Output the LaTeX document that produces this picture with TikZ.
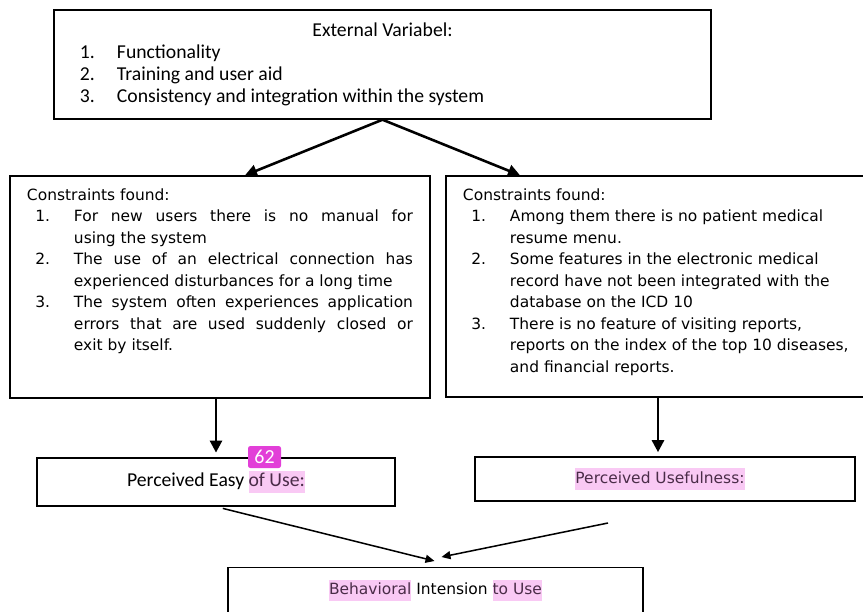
\documentclass[tikz,border=0pt]{standalone}
\usepackage{fontspec}
\setmainfont{Carlito}
\newfontfamily\lucfont{DejaVu Sans}
\usetikzlibrary{arrows.meta, calc, positioning}
\definecolor{hlpink}{HTML}{F9C9F4}
\definecolor{hltext}{HTML}{4A2C48}
\definecolor{tagpink}{HTML}{E23FD8}
\tikzstyle{bigbox} = [rectangle, draw, line width=1.2pt, inner xsep=0.51cm, inner ysep=0.27cm]
\tikzstyle{smallbox} = [rectangle, draw, line width=1.2pt]
\tikzstyle{arrow} = [line width=2.2pt, -{Triangle[length=0.36cm, width=0.36cm]}]
\tikzstyle{thinarrow} = [line width=1.3pt, -{Triangle[length=0.27cm, width=0.24cm]}]
\newcommand{\marked}[1]{{\setlength{\fboxsep}{0pt}\colorbox{hlpink}{\strut\color{hltext}#1}}}
\newcommand{\citem}[2]{\par\hangindent=1.41cm\hangafter=1\noindent\makebox[1.41cm][l]{\hspace*{0.25cm}#1}#2\par}
\newcommand{\titem}[2]{\par\hangindent=1.11cm\hangafter=1\noindent\makebox[1.11cm][l]{#1}#2\par}
\newcommand{\cfont}{\lucfont\fontsize{13.2}{18.4}\selectfont}
\newcommand{\tfont}{\fontsize{16.8}{18.7}\selectfont}

\begin{document}
\begin{tikzpicture}[x=0.03cm, y=-0.03cm]
        \useasboundingbox (0,0) rectangle (863,611);
        % External variables
        \node (ext) [smallbox, inner sep=0, minimum width=19.71cm, minimum height=3.27cm] at (382.5,64.5) {\parbox{18.15cm}{\tfont\centering External Variabel:\par\raggedright
                \titem{1.}{Functionality}
                \titem{2.}{Training and user aid}
                \titem{3.}{Consistency and integration within the system}}};

        % Constraints
        \node (lc) [bigbox] at (220,287) {\parbox[c][6.12cm][t]{11.58cm}{\cfont\strut Constraints found:\par
                \citem{1.}{For new users there is no manual for\linebreak using the system}
                \citem{2.}{The use of an electrical connection has\linebreak experienced disturbances for a long time}
                \citem{3.}{The system often experiences application\linebreak errors that are used suddenly closed or\linebreak exit by itself.}}};
        \node (rc) [bigbox] at (658,286.5) {\parbox[c][6.09cm][t]{11.7cm}{\cfont\raggedright\strut Constraints found:\par
                \citem{1.}{Among them there is no patient medical\newline resume menu.}
                \citem{2.}{Some features in the electronic medical\newline record have not been integrated with the\newline database on the ICD 10}
                \citem{3.}{There is no feature of visiting reports,\newline reports on the index of the top 10 diseases,\newline and financial reports.}}};

        % TAM constructs
        \node (peu) [smallbox, minimum width=10.74cm, minimum height=1.44cm] at (216,482) {\tfont Perceived Easy \marked{of Use:}};
        \node (tag) [fill=tagpink, rounded corners=2pt, text=white, inner sep=0, minimum width=0.99cm, minimum height=0.66cm] at (264.5,457) {\fontsize{17}{17}\selectfont 62};
        \node (pu) [smallbox, minimum width=11.4cm, minimum height=1.32cm] at (665,479) {\cfont\marked{Perceived Usefulness:}\hspace*{0.3cm}};
        \node (bi) [smallbox, anchor=north, inner xsep=0, inner ysep=0.36cm] at (435.5,567) {\parbox[c][2.4cm][t]{12.45cm}{\cfont\centering\strut\marked{Behavioral} Intension \marked{to Use}}};

        % Arrows
        \draw [arrow] (ext.south) -- ($(lc.north)+(25,0)$);
        \draw [arrow] (ext.south) -- ($(rc.north)+(-138,0)$);
        \draw [arrow, shorten >=4pt] (lc.south -| peu.north) -- (peu.north);
        \draw [arrow, shorten >=3.5pt] (rc.south) -- (rc.south |- pu.north);

        \coordinate (pufoot) at (608,523);
        \draw [thinarrow, shorten <=6pt] (peu.south) -- ($(bi.north)+(-1,-6)$);
        \draw [thinarrow] (pufoot) -- ($(bi.north)+(6,-10)$);
\end{tikzpicture}
\end{document}
